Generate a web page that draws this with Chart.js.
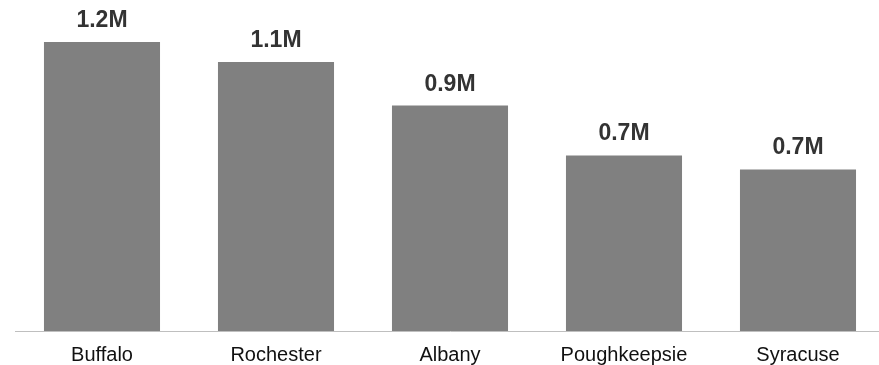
<!DOCTYPE html>
<html lang="en">
<head>
    <meta charset="UTF-8">
    <title>Cities</title>
    <script src="https://cdn.jsdelivr.net/npm/chart.js"></script>
    <style>
        html, body { margin: 0; padding: 0; background: #fff; overflow: hidden; }
        .wrap { width: 879px; height: 365px; overflow: hidden; }
    </style>
</head>
<body>
    <div class="wrap">
        <canvas id="myChart" width="885" height="371"></canvas>
    </div>

    <script>
        // data
        const cities = ['Buffalo', 'Rochester', 'Albany', 'Poughkeepsie', 'Syracuse'];
        const values = [1200000, 1117000, 936000, 729000, 671000];

        // value labels above bars
        const barLabels = {
            id: 'barLabels',
            afterDatasetsDraw(chart) {
                const ctx = chart.ctx;
                const meta = chart.getDatasetMeta(0);
                ctx.save();
                ctx.font = 'bold 23px "Liberation Sans", Arial, sans-serif';
                ctx.fillStyle = '#333333';
                ctx.textAlign = 'center';
                ctx.textBaseline = 'alphabetic';
                meta.data.forEach((bar, i) => {
                    const txt = (values[i] / 1000000).toFixed(1) + 'M';
                    ctx.fillText(txt, bar.x, bar.y - 15);
                });
                ctx.restore();
            }
        };

        new Chart(document.getElementById('myChart'), {
            type: 'bar',
            data: {
                labels: cities,
                datasets: [{
                    data: values,
                    backgroundColor: '#808080',
                    barPercentage: 0.667,
                    categoryPercentage: 1
                }]
            },
            options: {
                responsive: false,
                animation: false,
                devicePixelRatio: 1,
                layout: { padding: { top: 42, left: 15, right: 0, bottom: 0 } },
                plugins: {
                    legend: { display: false },
                    tooltip: { enabled: false }
                },
                scales: {
                    x: {
                        grid: { display: false },
                        border: { display: true, color: '#bfbfbf', width: 1 },
                        ticks: {
                            color: '#111111',
                            padding: 4,
                            font: { family: '"Liberation Sans", Arial, sans-serif', size: 20 }
                        }
                    },
                    y: {
                        display: false,
                        min: 0,
                        max: 1200000
                    }
                }
            },
            plugins: [barLabels]
        });
    </script>
</body>
</html>
